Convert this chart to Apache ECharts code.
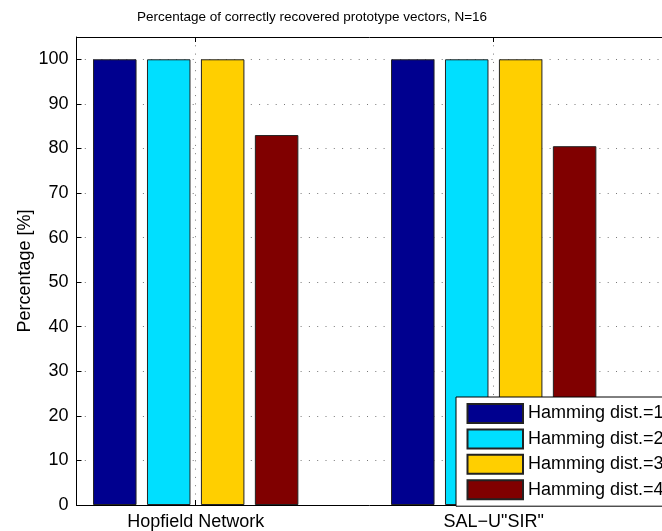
<!DOCTYPE html>
<html>
<head>
<meta charset="utf-8">
<script src="https://cdn.jsdelivr.net/npm/echarts@6/dist/echarts.min.js"></script>
<style>
  html, body { margin: 0; padding: 0; background: #fff; }
  #chart { width: 662px; height: 531px; }
</style>
</head>
<body>
<div id="chart"></div>
<script>
// Group labels (x positions 1 and 2 on the value axis)
const groups = ['Hopfield Network', 'SAL\u2212U"SIR"'];
const groupPos = [1, 2];
// One series per Hamming distance
const seriesNames = ['Hamming dist.=1', 'Hamming dist.=2', 'Hamming dist.=3', 'Hamming dist.=4'];
const hd1 = [100, 100];
const hd2 = [100, 100];
const hd3 = [100, 100];
const hd4 = [83, 80.5];
const seriesValues = [hd1, hd2, hd3, hd4];
const barColors = ['#00008F', '#00DFFF', '#FFCF00', '#800000'];

const FONT = 'Liberation Sans, Arial, Helvetica, sans-serif';
const dotted = { color: '#777', type: [1, 7.3], width: 1 };

const chart = echarts.init(document.getElementById('chart'), null, { renderer: 'canvas' });

const series = seriesNames.map((name, i) => ({
  name: name,
  type: 'bar',
  barWidth: 43.5,
  barGap: '24%',
  itemStyle: { color: barColors[i], borderColor: '#222', borderWidth: 1 },
  data: groupPos.map((x, j) => [x, seriesValues[i][j]])
}));

chart.setOption({
  animation: false,
  backgroundColor: '#fff',
  title: {
    text: 'Percentage of correctly recovered prototype vectors, N=16',
    left: 307,
    top: 5,
    textAlign: 'center',
    textStyle: { fontFamily: FONT, fontSize: 13.5, fontWeight: 'normal', color: '#000' }
  },
  legend: {
    orient: 'vertical',
    left: 456,
    top: 397,
    padding: [6, 10, 6, 10.5],
    itemWidth: 55.5,
    itemHeight: 19,
    itemGap: 4.4,
    icon: 'rect',
    backgroundColor: '#fff',
    borderColor: '#000',
    borderWidth: 1,
    borderRadius: 0,
    textStyle: { fontFamily: FONT, fontSize: 18, color: '#000', lineHeight: 19 },
    data: seriesNames
  },
  grid: { left: 76.5, top: 37, width: 596, height: 468, containLabel: false, outerBoundsMode: 'none' },
  xAxis: [
    {
      type: 'value',
      position: 'bottom',
      min: 0.6,
      max: 2.6,
      axisLine: { show: true, onZero: false, lineStyle: { color: '#000', width: 1 } },
      axisTick: { show: true, inside: true, length: 5, customValues: groupPos, lineStyle: { color: '#000' } },
      axisLabel: {
        customValues: groupPos,
        formatter: v => groups[groupPos.indexOf(Math.round(v))] || '',
        margin: 8,
        fontFamily: FONT, fontSize: 18, color: '#000'
      },
      splitLine: { show: true, lineStyle: dotted }
    },
    {
      type: 'value',
      position: 'top',
      min: 0.6,
      max: 2.6,
      axisLine: { show: true, onZero: false, lineStyle: { color: '#000', width: 1 } },
      axisTick: { show: true, inside: true, length: 5, customValues: groupPos, lineStyle: { color: '#000' } },
      axisLabel: { show: false },
      splitLine: { show: false }
    }
  ],
  yAxis: {
    type: 'value',
    min: 0,
    max: 105,
    interval: 10,
    name: 'Percentage [%]',
    nameLocation: 'middle',
    nameGap: 42,
    nameMoveOverlap: false,
    nameTextStyle: { fontFamily: FONT, fontSize: 18, color: '#000' },
    axisLine: { show: true, onZero: false, lineStyle: { color: '#000', width: 1 } },
    axisTick: { show: true, inside: true, length: 5, lineStyle: { color: '#000' } },
    axisLabel: { showMaxLabel: false, margin: 8, fontFamily: FONT, fontSize: 18, color: '#000' },
    splitLine: { show: true, lineStyle: dotted }
  },
  series: series
});
</script>
</body>
</html>
